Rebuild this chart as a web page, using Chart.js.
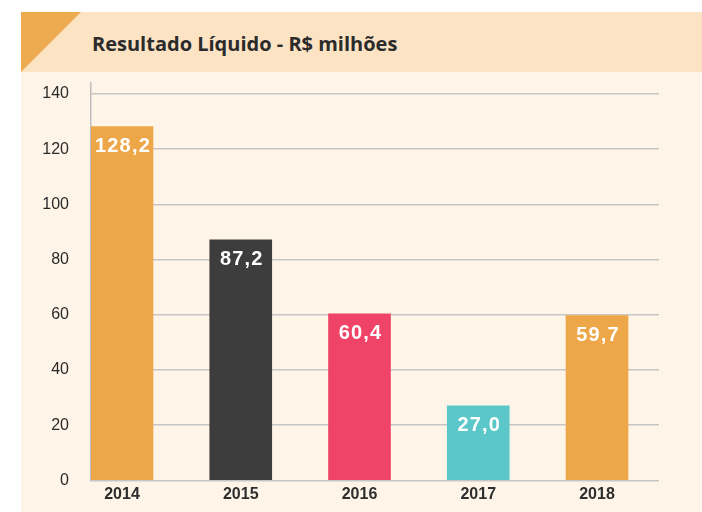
<!DOCTYPE html>
<html>
<head>
<meta charset="utf-8">
<script src="https://cdn.jsdelivr.net/npm/chart.js@4"></script>
<style>
  html, body { margin: 0; padding: 0; background: #ffffff; }
  #wrap { position: relative; width: 702px; height: 512px; overflow: hidden; }
  #panel { position: absolute; left: 21px; top: 12px; width: 681px; height: 500px; background: #FEF5E8; }
  #band { position: absolute; left: 21px; top: 12px; width: 681px; height: 60px; background: #FBE3C4; }
  #tri { position: absolute; left: 21px; top: 12px; width: 0; height: 0;
         border-top: 60px solid #EDAA4E; border-right: 60px solid transparent; }
  #title { position: absolute; left: 92px; top: 30px; font-family: "Open Sans", Lato, sans-serif;
           font-weight: 700; font-size: 20px; color: #2b2b2b; white-space: nowrap; line-height: 28px; }
  canvas { position: absolute; left: 0; top: 0; }
</style>
</head>
<body>
<div id="wrap">
  <div id="panel"></div>
  <div id="band"></div>
  <div id="tri"></div>
  <div id="title">Resultado Líquido - R$ milhões</div>
  <canvas id="c" width="702" height="512"></canvas>
</div>
<script>
const years = ['2014', '2015', '2016', '2017', '2018'];
const values = [128.2, 87.2, 60.4, 27.0, 59.7];
const barColors = ['#EEA748', '#3D3D3D', '#EF4367', '#5CC7C9', '#EEA748'];
const yTicks = [0, 20, 40, 60, 80, 100, 120, 140];

const points = values.map((v, i) => ({ x: i, y: v }));

const valueLabels = {
  id: 'valueLabels',
  afterDatasetsDraw(chart) {
    const ctx = chart.ctx;
    const meta = chart.getDatasetMeta(0);
    ctx.save();
    ctx.fillStyle = '#ffffff';
    ctx.font = 'bold 20px "Liberation Sans", Arial, sans-serif';
    ctx.textAlign = 'center';
    ctx.textBaseline = 'middle';
    try { ctx.letterSpacing = '1.2px'; } catch (e) {}
    meta.data.forEach((bar, i) => {
      const txt = values[i].toFixed(1).replace('.', ',');
      ctx.fillText(txt, bar.x + 1, bar.y + 20);
    });
    ctx.restore();
  }
};

new Chart(document.getElementById('c'), {
  type: 'bar',
  data: {
    datasets: [{
      data: points,
      backgroundColor: barColors,
      borderWidth: 0,
      barThickness: 62
    }]
  },
  options: {
    responsive: false,
    animation: false,
    layout: { padding: { left: 0, right: 43, top: 83, bottom: 0 } },
    plugins: { legend: { display: false }, tooltip: { enabled: false } },
    scales: {
      x: {
        type: 'linear',
        offset: false,
        min: -0.261,
        max: 4.522,
        grid: { display: false, drawTicks: false, offset: false },
        border: { display: false },
        afterFit(s) { s.height = 31; },
        ticks: {
          stepSize: 1,
          includeBounds: false,
          autoSkip: false,
          maxRotation: 0,
          padding: 5,
          color: '#2e2e2e',
          font: { family: '"Liberation Sans", Arial, sans-serif', size: 16, weight: 'bold' },
          callback: (v) => (Number.isInteger(v) && years[v] !== undefined) ? years[v] : ''
        }
      },
      y: {
        min: 0,
        max: 144,
        afterFit(s) { s.width = 91; },
        afterBuildTicks(s) { s.ticks = yTicks.map(v => ({ value: v })); },
        grid: { color: '#C6C6C6', lineWidth: 1.6, drawTicks: false },
        border: { display: true, color: '#BDBDBD', width: 1.5 },
        ticks: {
          padding: 22,
          color: '#2a2a2a',
          font: { family: '"Liberation Sans", Arial, sans-serif', size: 16 }
        }
      }
    }
  },
  plugins: [valueLabels]
});
</script>
</body>
</html>
